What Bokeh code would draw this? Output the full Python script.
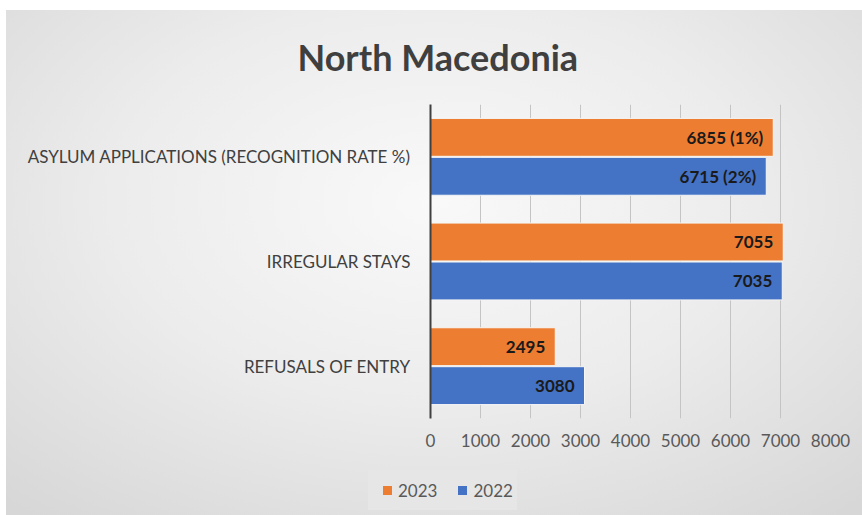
from bokeh.plotting import figure
from bokeh.layouts import column, row
from bokeh.models import (ColumnDataSource, FactorRange, Range1d, LabelSet, Title,
                          FixedTicker, Div, Spacer)
from bokeh.core.properties import value
from bokeh.transform import dodge
from bokeh.embed import file_html
from bokeh.resources import INLINE

categories = ["REFUSALS OF ENTRY", "IRREGULAR STAYS", "ASYLUM APPLICATIONS (RECOGNITION RATE %)"]
values_2023 = [2495, 7055, 6855]
values_2022 = [3080, 7035, 6715]
labels_2023 = ["2495", "7055", "6855 (1%)"]
labels_2022 = ["3080", "7035", "6715 (2%)"]
x_ticks = [0, 1000, 2000, 3000, 4000, 5000, 6000, 7000, 8000]
series_names = ["2023", "2022"]
title_text = "North Macedonia"

src23 = ColumnDataSource(dict(cat=categories, val=values_2023, lab=labels_2023))
src22 = ColumnDataSource(dict(cat=categories, val=values_2022, lab=labels_2022))

FONT = "Lato"
ORANGE = "#ED7D31"
BLUE = "#4472C4"
GRADIENT = "radial-gradient(ellipse 75% 80% at 50% 38%, #f9f9f9 0%, #ececec 50%, #d7d7d7 100%)"

p = figure(width=856, height=452, output_backend="svg", toolbar_location=None,
           y_range=FactorRange(factors=categories), x_range=Range1d(0, 8000),
           min_border_left=424, min_border_right=32, min_border_top=93, min_border_bottom=44,
           background_fill_alpha=0, border_fill_alpha=0, outline_line_color=None)

title = Title(text=title_text, align="left", vertical_align="top", text_font=FONT,
              text_font_size="36px", text_font_style="bold", text_color="#3f3f3f",
              standoff=48, offset=-133)
p.add_layout(title, "above")

BH = 0.362
r23 = p.hbar(y=dodge("cat", 0.186, range=p.y_range), right="val", left=0, height=BH,
             source=src23, fill_color=ORANGE, line_color="#f6f6f6", line_width=1)
r22 = p.hbar(y=dodge("cat", -0.186, range=p.y_range), right="val", left=0, height=BH,
             source=src22, fill_color=BLUE, line_color="#f6f6f6", line_width=1)

for src, off in ((src23, 0.186), (src22, -0.186)):
    ls = LabelSet(x="val", y=dodge("cat", off, range=p.y_range), text="lab", source=src,
                  x_offset=-10, text_align="right", text_baseline="middle",
                  text_font=value(FONT), text_font_size=value("17px"),
                  text_font_style="bold", text_color="#1a1a1a")
    p.add_layout(ls)

p.xaxis.ticker = FixedTicker(ticks=x_ticks)
p.xaxis.axis_line_color = None
p.xaxis.major_tick_line_color = None
p.xaxis.minor_tick_line_color = None
p.xaxis.major_label_text_font = FONT
p.xaxis.major_label_text_font_size = "17px"
p.xaxis.major_label_text_color = "#595959"
p.xaxis.major_label_standoff = 9

p.yaxis.axis_line_color = "#404040"
p.yaxis.axis_line_width = 2
p.yaxis.major_tick_line_color = None
p.yaxis.minor_tick_line_color = None
p.yaxis.major_label_text_font = FONT
p.yaxis.major_label_text_font_size = "17px"
p.yaxis.major_label_text_color = "#404040"
p.yaxis.major_label_standoff = 14

p.xgrid.grid_line_color = "#c4c4c4"
p.xgrid.grid_line_width = 1
p.ygrid.grid_line_color = None

# legend strip (HTML)
def swatch(color, ml):
    return (f'<span style="display:inline-block;width:9px;height:9px;background:{color};'
            f'margin-left:{ml}px;margin-right:6px;"></span>')

legend_html = (
    f'<div style="margin-left:362px;margin-top:8px;width:149px;height:40px;'
    f'background:#e6e6e6;display:flex;align-items:center;font-family:{FONT};'
    f'font-size:17px;color:#595959;line-height:1;">'
    f'{swatch(ORANGE, 15)}<span>{series_names[0]}</span>'
    f'{swatch(BLUE, 21)}<span>{series_names[1]}</span></div>'
)
legend_div = Div(text=legend_html, width=856, height=53,
                 styles={"margin": "0", "padding": "0"})

chart = column(p, legend_div, spacing=0, styles={"background": GRADIENT})
layout = column(Spacer(height=10), row(Spacer(width=6), chart, spacing=0), spacing=0)
open("out.html", "w").write(file_html(layout, INLINE))
